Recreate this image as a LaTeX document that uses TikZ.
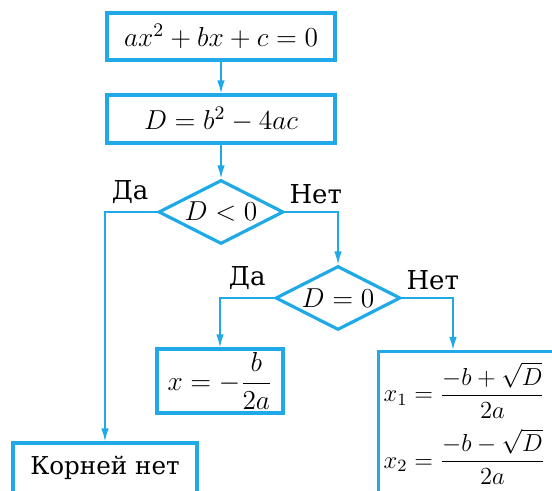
\RequirePackage{fix-cm}
\documentclass[tikz,border=0pt]{standalone}
\usepackage[no-math]{fontspec}
\usepackage{amsmath}
\usetikzlibrary{arrows.meta,shapes.geometric}
\setmainfont{DejaVu Serif}
\definecolor{flowblue}{HTML}{1FA9E6}

\begin{document}
\begin{tikzpicture}[
  x=0.5pt,
  y=-0.5pt,
  font=\fontsize{13.7}{16}\selectfont,
  block/.style={draw=flowblue,line width=1.6pt,inner sep=0pt},
  test/.style={draw=flowblue,line width=1.6pt,diamond,aspect=2,inner sep=0pt,
    minimum width=62.5pt,minimum height=32pt},
  flow/.style={draw=flowblue,line width=0.8pt,-{Latex[length=6.5pt,width=3.8pt]}},
  answer/.style={font=\rmfamily\fontsize{13}{16}\selectfont,inner sep=4pt}
]
  % Frame of the page; the two lower boxes run past its edge.
  \useasboundingbox (0,0) rectangle (552,491);
  \clip (0,0) rectangle (552,491);

  \node[block,minimum width=114pt,minimum height=23.5pt] (eq) at (221,36.5) {$ax^2+bx+c=0$};
  \node[block,minimum width=114pt,minimum height=24pt] (disc) at (221,119) {$D=b^2-4ac$};
  \node[test] (neg) at (221,212) {$D<0$};
  \node[test] (zero) at (338,298) {$D=0$};
  \node[block,minimum width=63pt,minimum height=32pt] (one) at (220,381) {$x=-\dfrac{b}{2a}$};
  \node[block,anchor=north west,text width=90pt,inner xsep=2.5pt,minimum height=72pt,align=left,
    font=\fontsize{12.3}{14}\selectfont] (two) at (377,350)
    {$x_1=\dfrac{-b+\sqrt{D}}{2a}$\\[4pt]$x_2=\dfrac{-b-\sqrt{D}}{2a}$};
  \node[block,minimum width=92pt,minimum height=25pt,font=\rmfamily\fontsize{12.3}{15}\selectfont] (none) at (105,468) {Корней нет};

  % Branch labels sit just above the corners of the tests.
  \node[answer,anchor=south east] (negyes) at (neg.west) {Да};
  \node[answer,anchor=south west,xshift=-2pt] (negno) at (neg.east) {Нет};
  \node[answer,anchor=south east] (zeroyes) at (zero.west) {Да};
  \node[answer,anchor=south west,xshift=-2pt] (zerono) at (zero.east) {Нет};

  \coordinate (twoin) at ([xshift=38pt]two.north west);

  \draw[flow] (eq) -- (disc);
  \draw[flow] (disc) -- (neg);
  \draw[flow] (neg.west) -| (none.north);
  \draw[flow] (neg.east) -| (zero.north);
  \draw[flow] (zero.west) -| (one.north);
  \draw[flow] (zero.east) -| (twoin);
\end{tikzpicture}
\end{document}
